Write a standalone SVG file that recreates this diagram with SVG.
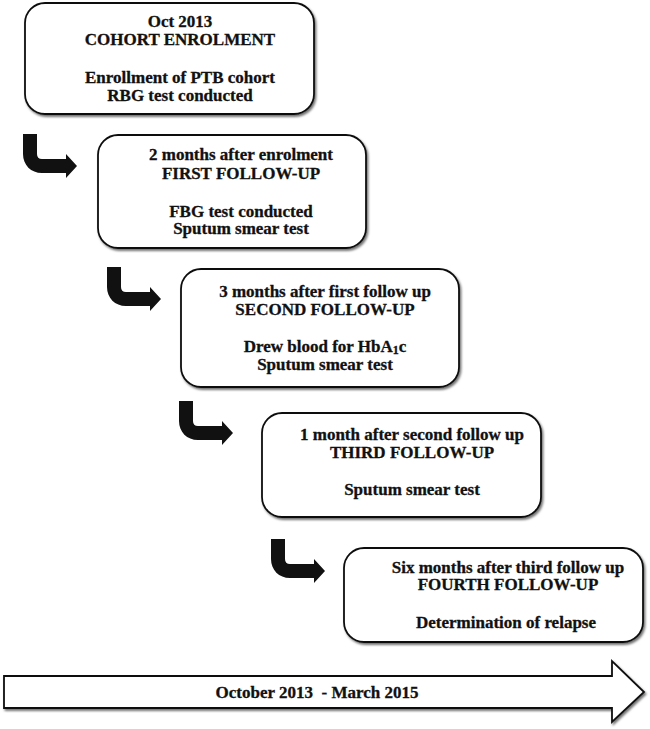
<svg xmlns="http://www.w3.org/2000/svg" width="650" height="729" viewBox="0 0 650 729">
<style>
.box{fill:#fff;stroke:#111;stroke-width:1.8;filter:url(#sh)}
.t{font-family:"Liberation Serif","Times New Roman",serif;font-weight:bold;font-size:17px;fill:#111;stroke:#111;stroke-width:0.3;text-anchor:middle}
.bend{fill:#111}
</style>
<defs>
<filter id="sh" x="-5%" y="-5%" width="112%" height="120%">
<feDropShadow dx="1.5" dy="2" stdDeviation="1.2" flood-color="#000" flood-opacity="0.55"/>
</filter>
<path id="bent" d="M0,0 H14 V20 Q14,25 19,25 H43 V20 L54,32 L43,44 V39 H19 C8,39 0,31 0,20 Z"/>
</defs>
<g id="connectors">
<use href="#bent" class="bend" x="23" y="134"/>
<use href="#bent" class="bend" x="107" y="267"/>
<use href="#bent" class="bend" x="179" y="401"/>
<use href="#bent" class="bend" x="271" y="539"/>
</g>
<g id="n1">
<rect class="box" x="25" y="3" width="289" height="111" rx="20"/>
<text class="t" x="180" y="27">Oct 2013</text>
<text class="t" x="180" y="45">COHORT ENROLMENT</text>
<text class="t" x="180" y="82.5">Enrollment of PTB cohort</text>
<text class="t" x="180" y="100.5">RBG test conducted</text>
</g>
<g id="n2">
<rect class="box" x="98" y="135" width="268" height="113" rx="20"/>
<text class="t" x="241" y="160">2 months after enrolment</text>
<text class="t" x="241" y="178.5">FIRST FOLLOW-UP</text>
<text class="t" x="241" y="216.5">FBG test conducted</text>
<text class="t" x="241" y="234">Sputum smear test</text>
</g>
<g id="n3">
<rect class="box" x="181" y="269" width="278" height="118" rx="20"/>
<text class="t" x="325" y="296.5">3 months after first follow up</text>
<text class="t" x="325" y="315">SECOND FOLLOW-UP</text>
<text class="t" x="325" y="351.5">Drew blood for HbA<tspan font-size="12" dy="2">1</tspan><tspan dy="-2">c</tspan></text>
<text class="t" x="325" y="370">Sputum smear test</text>
</g>
<g id="n4">
<rect class="box" x="262" y="413" width="279" height="104" rx="20"/>
<text class="t" x="412" y="440">1 month after second follow up</text>
<text class="t" x="412" y="457.5">THIRD FOLLOW-UP</text>
<text class="t" x="412" y="495">Sputum smear test</text>
</g>
<g id="n5">
<rect class="box" x="344" y="548" width="299" height="94" rx="20"/>
<text class="t" x="508" y="572.5">Six months after third follow up</text>
<text class="t" x="508" y="590">FOURTH FOLLOW-UP</text>
<text class="t" x="506" y="628">Determination of relapse</text>
</g>
<g id="timeline">
<polygon class="box" points="4,676 612,676 612,661 644,692 612,722 612,708 4,708"/>
<text class="t" x="317" y="698" xml:space="preserve">October 2013  - March 2015</text>
</g>
</svg>
